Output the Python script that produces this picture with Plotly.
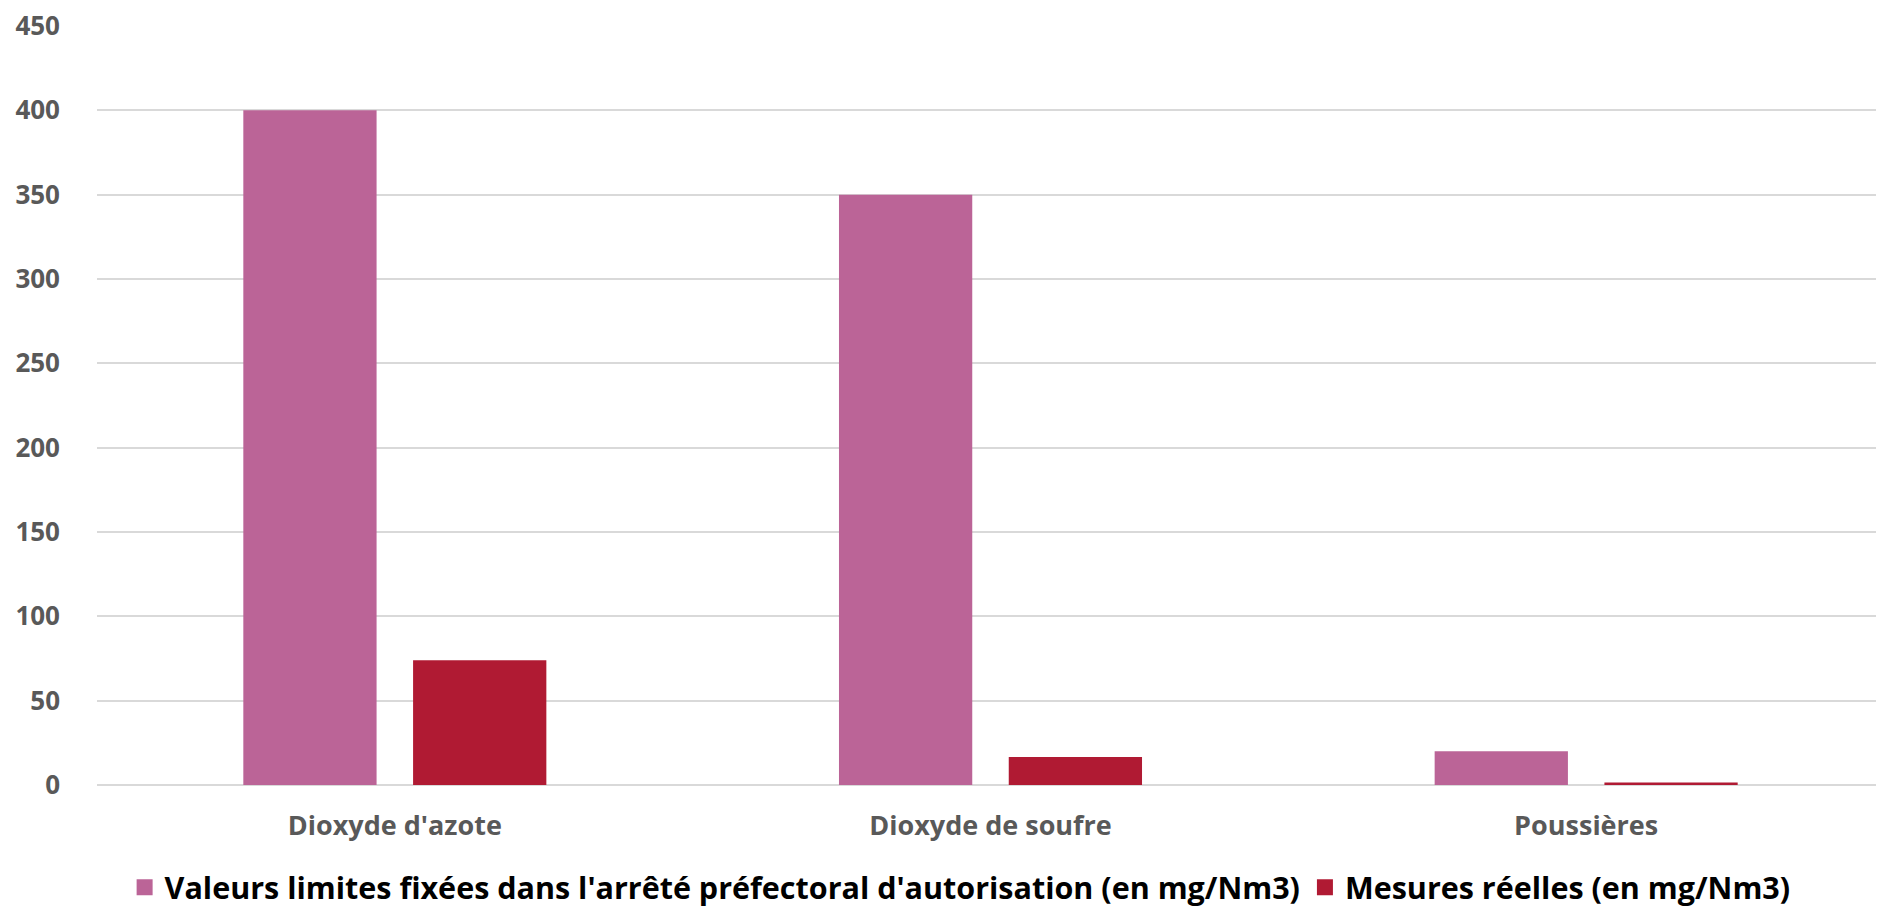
import plotly.graph_objects as go

categories = ["Dioxyde d'azote", "Dioxyde de soufre", "Poussières"]
limites = [400, 350, 20]
mesures = [74, 16.6, 1.5]
series_names = ["Valeurs limites fixées dans l'arrêté préfectoral d'autorisation (en mg/Nm3)",
                "Mesures réelles (en mg/Nm3)"]
y_ticks = [0, 50, 100, 150, 200, 250, 300, 350, 400, 450]

PINK = "#BB6497"
RED = "#B01A33"
FONT = "Open Sans"
colors = [PINK, RED]

fig = go.Figure()
for vals, name, col in zip([limites, mesures], series_names, colors):
    fig.add_trace(go.Bar(x=categories, y=vals, name=name, showlegend=False,
                         marker=dict(color=col, line=dict(width=0))))
# legend proxies (larger square symbols)
for name, col in zip(series_names, colors):
    fig.add_trace(go.Scatter(x=[None], y=[None], mode="markers", name=name,
                             marker=dict(symbol="square", size=16, color=col),
                             showlegend=True, hoverinfo="skip"))

fig.update_layout(
    width=1876, height=901,
    autosize=False,
    barmode="group",
    bargap=0.43,
    bargroupgap=0.215,
    plot_bgcolor="white",
    paper_bgcolor="white",
    margin=dict(l=89, r=0, t=18, b=124, autoexpand=False),
    font=dict(family=FONT, color="#595959"),
    showlegend=True,
    legend=dict(
        orientation="h",
        x=0.483, xanchor="center",
        y=-0.135, yanchor="middle",
        font=dict(family=FONT, size=30.5, color="#000000", weight="bold"),
        itemsizing="trace",
        itemwidth=30,
        tracegroupgap=0,
    ),
)
fig.update_xaxes(
    showgrid=False, showline=False, zeroline=False, automargin=False,
    tickfont=dict(family=FONT, size=27, color="#595959", weight="bold"),
    ticks="", ticklabelstandoff=22,
)
fig.update_yaxes(
    range=[0, 450.01],
    tickvals=y_ticks, automargin=False,
    ticklabeloverflow="allow",
    showgrid=True, gridcolor="#D9D9D9", gridwidth=1.6,
    zeroline=True, zerolinecolor="#D9D9D9", zerolinewidth=1.6,
    showline=False,
    tickfont=dict(family=FONT, size=26, color="#595959", weight="bold"),
    ticks="", ticklabelstandoff=36,
)

fig.write_html("out.html")
